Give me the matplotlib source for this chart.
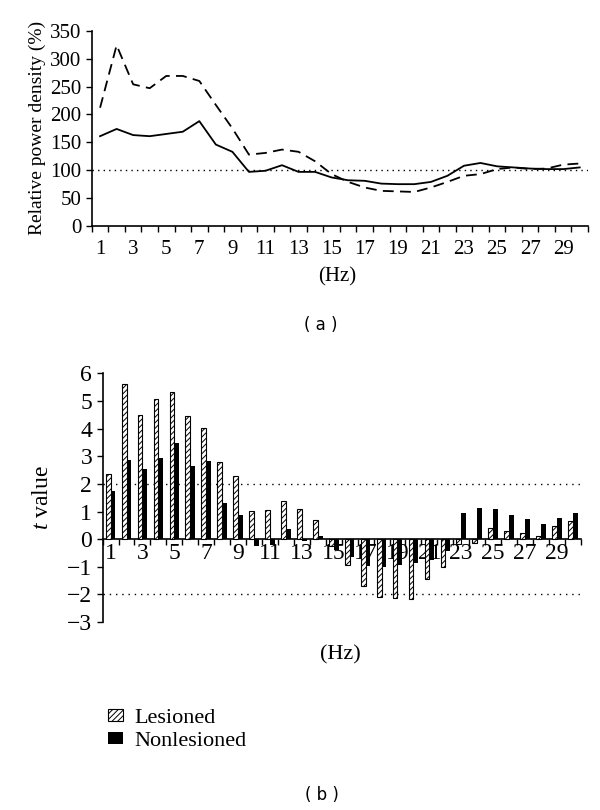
import numpy as np
import matplotlib
matplotlib.use("Agg")
import matplotlib.pyplot as plt
from matplotlib.ticker import FixedLocator

plt.rcParams['font.family'] = ['Liberation Serif', 'DejaVu Serif']
plt.rcParams['hatch.linewidth'] = 0.7
plt.rcParams['mathtext.fontset'] = 'custom'
plt.rcParams['mathtext.it'] = 'Liberation Serif:italic'
plt.rcParams['mathtext.rm'] = 'Liberation Serif'

# frequency bins (Hz)
hz = np.arange(1, 31)

# panel (a): relative power density (%)
solid_line = [161, 174, 163, 161, 165, 169, 188, 146, 133, 97,
              99, 109, 97, 97, 87, 82, 81, 76, 75, 75,
              79, 90, 108, 113, 107, 105, 103, 102, 102, 105]
dashed_line = [212, 324, 254, 247, 269, 269, 260, 217, 175, 128,
               131, 137, 133, 116, 93, 79, 69, 63, 62, 61,
               69, 79, 90, 93, 102, 105, 102, 103, 110, 112]

# panel (b): t values
lesioned = [2.37, 5.6, 4.48, 5.08, 5.31, 4.46, 4.02, 2.80, 2.27, 1.01,
            1.04, 1.37, 1.10, 0.68, -0.26, -0.93, -1.71, -2.10, -2.14, -2.16,
            -1.45, -1.01, -0.19, -0.12, 0.39, 0.28, 0.23, 0.13, 0.48, 0.65]
nonlesioned = [1.73, 2.86, 2.53, 2.93, 3.49, 2.66, 2.84, 1.30, 0.88, -0.26,
               -0.22, 0.37, -0.05, 0.12, -0.38, -0.65, -0.97, -1.01, -0.93, -0.87,
               -0.75, -0.41, 0.94, 1.14, 1.08, 0.86, 0.72, 0.54, 0.76, 0.93]

odd_labels = [str(v) for v in hz[::2]]

fig = plt.figure(figsize=(6, 8.1), dpi=100)

# ---- panel (a)
ax1 = fig.add_axes([0.153, 0.721, 0.827, 0.241])
ax1.plot(hz, solid_line, color='black', lw=1.3)
ax1.plot(hz, dashed_line, color='black', lw=1.3, dashes=(6, 3.5))
ax1.axhline(100, color='black', lw=1.0, ls=(0, (1, 3)))
ax1.set_xlim(0.5, 30.5)
ax1.set_ylim(0, 350)
ax1.set_yticks(np.arange(0, 351, 50))
ax1.set_xticks(hz[::2])
ax1.set_xticklabels(odd_labels)
ax1.xaxis.set_minor_locator(FixedLocator(np.arange(0.5, 31, 1)))
ax1.tick_params(axis='x', which='major', length=0, pad=10, labelsize=15)
ax1.tick_params(axis='x', which='minor', length=4, width=1, direction='out')
ax1.tick_params(axis='y', length=4, width=1, direction='out', labelsize=15)
for s in ['top', 'right']:
    ax1.spines[s].set_visible(False)
ax1.spines['left'].set_linewidth(1.2)
ax1.spines['bottom'].set_linewidth(1.2)
ax1.set_ylabel('Relative power density (%)', fontsize=14, labelpad=3)
fig.text(0.562, 1 - 277 / 810, '(Hz)', fontsize=15, ha='center', va='center')
fig.text(0.535, 1 - 325 / 810, '( a )', fontsize=12, ha='center', va='center',
         family='DejaVu Sans')

# ---- panel (b)
ax2 = fig.add_axes([0.171, 0.232, 0.797, 0.307])
w = 0.3
ax2.bar(hz - w / 2, lesioned, width=w, facecolor='white', edgecolor='black',
        hatch='//////', lw=0.8, zorder=3, label='Lesioned')
ax2.bar(hz + w / 2, nonlesioned, width=w, color='black', zorder=3,
        label='Nonlesioned')
ax2.axhline(2, color='black', lw=1.0, ls=(0, (1, 3.5)), zorder=1)
ax2.axhline(-2, color='black', lw=1.0, ls=(0, (1, 3.5)), zorder=1)
ax2.set_xlim(0.5, 30.5)
ax2.set_ylim(-3, 6)
ax2.set_yticks(np.arange(-3, 7, 1))
ax2.set_yticklabels([str(v).replace('-', '\u2212') for v in range(-3, 7)])
ax2.set_xticks(hz[::2])
ax2.set_xticklabels(odd_labels)
ax2.xaxis.set_minor_locator(FixedLocator(np.arange(0.5, 31, 1)))
ax2.tick_params(axis='x', which='major', length=0, pad=3, labelsize=17)
ax2.tick_params(axis='x', which='minor', length=4, width=1, direction='out')
ax2.tick_params(axis='y', length=4, width=1, direction='out', labelsize=17)
for s in ['top', 'right']:
    ax2.spines[s].set_visible(False)
ax2.spines['bottom'].set_position(('data', 0))
ax2.spines['left'].set_linewidth(1.2)
ax2.spines['bottom'].set_linewidth(1.2)
ax2.set_ylabel('$t$ value', fontsize=17, labelpad=10)
fig.text(0.567, 1 - 655 / 810, '(Hz)', fontsize=16, ha='center', va='center')

leg = fig.legend(loc='upper left', bbox_to_anchor=(0.165, 1 - 700 / 810),
                 frameon=False, fontsize=16, handlelength=0.7, handleheight=0.45,
                 handletextpad=0.5, labelspacing=0.2, borderaxespad=0)

fig.text(0.537, 1 - 795 / 810, '( b )', fontsize=12, ha='center', va='center',
         family='DejaVu Sans')

fig.savefig('out.png', dpi=100)
